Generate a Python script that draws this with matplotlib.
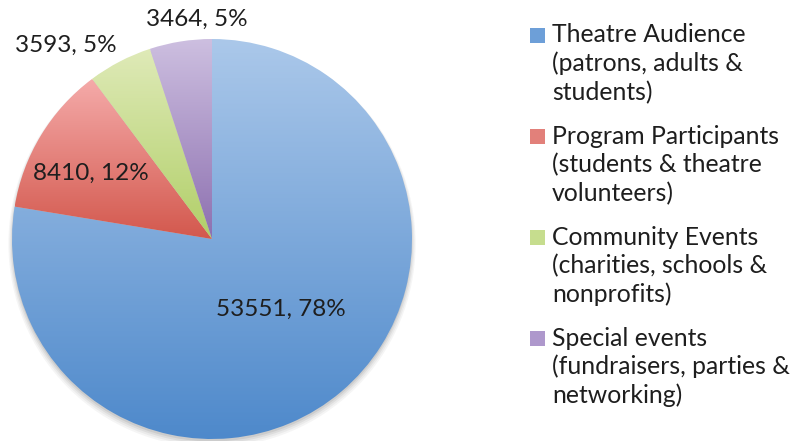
import numpy as np
import matplotlib.pyplot as plt
from matplotlib.colors import LinearSegmentedColormap
from matplotlib.patches import Rectangle, Circle

# data
categories = [
    "Theatre Audience\n(patrons, adults &\nstudents)",
    "Program Participants\n(students & theatre\nvolunteers)",
    "Community Events\n(charities, schools &\nnonprofits)",
    "Special events\n(fundraisers, parties &\nnetworking)",
]
values = [53551, 8410, 3593, 3464]
pct_labels = ["78%", "12%", "5%", "5%"]

# styles (gradient top -> bottom)
top_colors = ["#abc8ea", "#f5abaa", "#dfeab8", "#cdbfe0"]
bottom_colors = ["#4e89cb", "#d3584d", "#b1cf68", "#8d70b0"]
legend_colors = ["#6d9fd8", "#e2807a", "#c6dd8e", "#ae98cc"]
label_r = [0.49, 0.69, 1.03, 1.05]
label_dtheta = [4, 3, 0, -5]
text_color = "#1e1e1e"
font = ["Lato", "DejaVu Sans"]

W, H = 799, 441
fig = plt.figure(figsize=(W / 100, H / 100), dpi=100)

# pie axes: circle spans x 12..412, y 39..439 (pixels from top)
ax = fig.add_axes([12 / W, (H - 439) / H, 400 / W, 400 / H])
ax.set_xlim(-1, 1)
ax.set_ylim(-1, 1)
ax.set_aspect("equal")
ax.axis("off")

# soft shadow under the pie
for k, a in enumerate([0.05, 0.06, 0.08, 0.10]):
    ax.add_patch(Circle((0, -0.012 - 0.004 * (3 - k)), 1.0 + 0.006 * (3 - k),
                        color="#404040", alpha=a, lw=0, zorder=0, clip_on=False))

wedges, _ = ax.pie(values, startangle=90, counterclock=False, radius=1,
                   wedgeprops=dict(linewidth=0, facecolor="none"))

grad = np.linspace(0, 1, 256).reshape(-1, 1)
for w, c0, c1 in zip(wedges, top_colors, bottom_colors):
    w.set_zorder(2)
    bb = w.get_path().get_extents()
    cmap = LinearSegmentedColormap.from_list("g", [c0, c1])
    im = ax.imshow(grad, cmap=cmap, aspect="auto", zorder=1,
                   extent=[bb.x0, bb.x1, bb.y0, bb.y1], origin="upper")
    im.set_clip_path(w)
ax.set_xlim(-1, 1)
ax.set_ylim(-1, 1)

for i, (w, v, p) in enumerate(zip(wedges, values, pct_labels)):
    mid = np.deg2rad((w.theta1 + w.theta2) / 2 + label_dtheta[i])
    x, y = label_r[i] * np.cos(mid), label_r[i] * np.sin(mid)
    if label_r[i] > 1:
        ha = "right" if i == 2 else "center"
        va = "bottom"
    else:
        ha, va = "center", "center"
    ax.text(x, y, f"{v}, {p}", ha=ha, va=va, fontsize=17.5, color=text_color,
            family=font, clip_on=False, zorder=5)

# legend drawn by hand so squares line up with the first line
line_pitch = 28.6
group_step = 101
y0 = 35
for i, (lab, col) in enumerate(zip(categories, legend_colors)):
    gy = y0 + i * group_step
    fig.patches.append(Rectangle((530 / W, 1 - (gy + 8) / H), 15 / W, 15 / H,
                                 transform=fig.transFigure, facecolor=col,
                                 edgecolor="none"))
    for j, line in enumerate(lab.split("\n")):
        fig.text(552 / W, 1 - (gy + j * line_pitch) / H, line, ha="left",
                 va="center", fontsize=17.8, color=text_color, family=font)

fig.savefig("out.png", dpi=100)
